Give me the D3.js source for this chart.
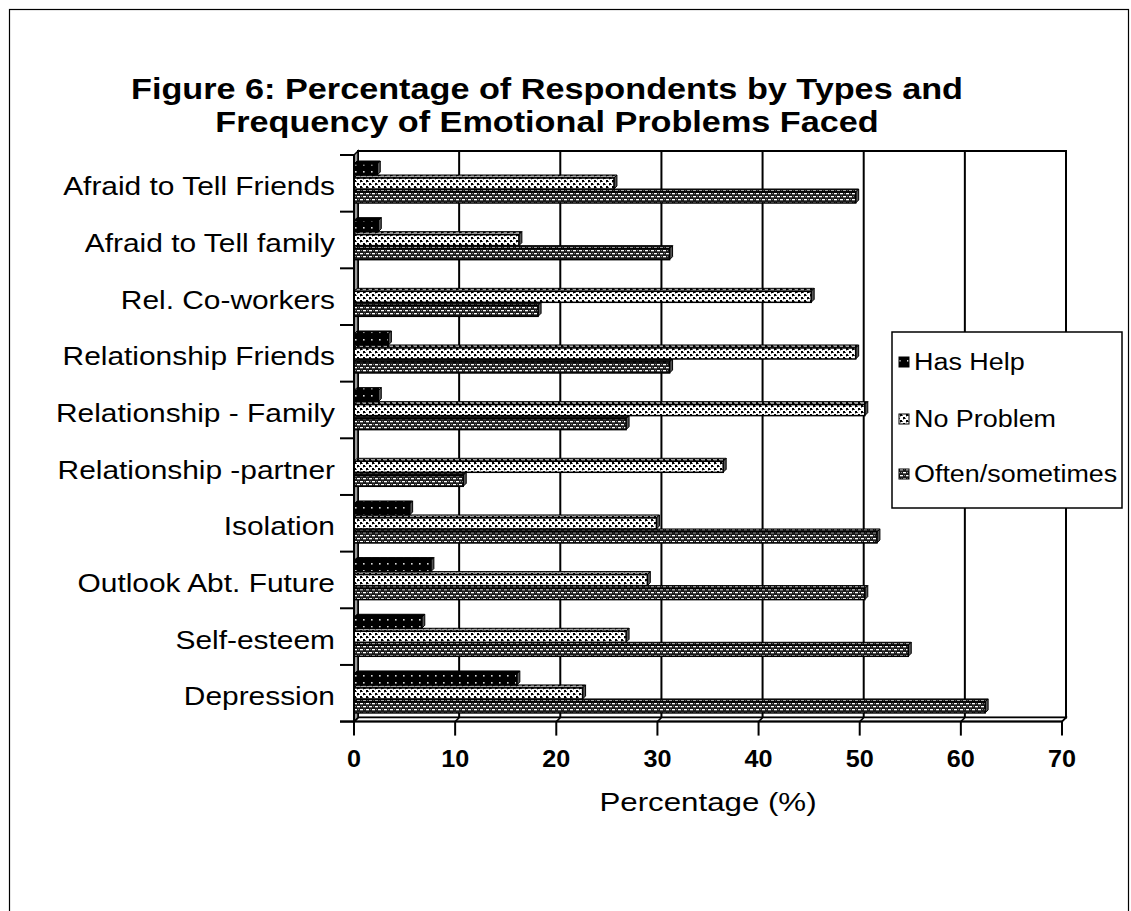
<!DOCTYPE html>
<html>
<head>
<meta charset="utf-8">
<script src="https://cdn.jsdelivr.net/npm/d3@7"></script>
<style>
  body { margin: 0; background: #fff; }
  svg { display: block; }
  text { font-family: "Liberation Sans", Arial, sans-serif; fill: #000; }
</style>
</head>
<body>
<svg id="chart" width="1131" height="911"></svg>
<script>
// ---- data ----
const categories = [
  "Afraid to Tell Friends", "Afraid to Tell family", "Rel. Co-workers",
  "Relationship Friends", "Relationship - Family", "Relationship -partner",
  "Isolation", "Outlook Abt. Future", "Self-esteem", "Depression"
];
const seriesNames = ["Has Help", "No Problem", "Often/sometimes"];
const hasHelp        = [2.3, 2.4, 0, 3.4, 2.4, 0, 5.5, 7.6, 6.7, 16.1];
const noProblem      = [25.7, 16.3, 45.2, 49.6, 50.5, 36.5, 29.9, 29.0, 26.9, 22.6];
const oftenSometimes = [49.6, 31.2, 18.2, 31.2, 26.9, 10.8, 51.7, 50.5, 54.8, 62.4];
const xTicks = [0, 10, 20, 30, 40, 50, 60, 70];
const titleLines = ["Figure 6: Percentage of Respondents by Types and",
                    "Frequency of Emotional Problems Faced"];
const axisTitle = "Percentage (%)";

const seriesValues = [hasHelp, noProblem, oftenSometimes];
const patternIds = ["pat-help", "pat-none", "pat-often"];

// ---- layout ----
const svg = d3.select("#chart");
const SX = 1.17;          // horizontal stretch of the lettering
const WALL = 4;           // depth of the back wall
const DEPTH = 3;          // depth of each bar

const x = d3.scaleLinear().domain([0, 70]).range([354, 1062]);
const y = d3.scaleBand().domain(categories).range([155, 721.6]).padding(0);
const ys = d3.scaleBand().domain(seriesNames).range([9, 48]).paddingInner(3 / 14).paddingOuter(0);

const plotTop = y.range()[0], plotBottom = y.range()[1];

// ---- fill patterns ----
const defs = svg.append("defs");
{
  const p = defs.append("pattern").attr("id", "pat-help").attr("patternUnits", "userSpaceOnUse")
    .attr("width", 8).attr("height", 7);
  p.append("rect").attr("width", 8).attr("height", 7).attr("fill", "#000");
  p.append("rect").attr("x", 3).attr("y", 3).attr("width", 1.6).attr("height", 1.6).attr("fill", "#d8d8d8");
}
{
  const p = defs.append("pattern").attr("id", "pat-none").attr("patternUnits", "userSpaceOnUse")
    .attr("width", 6).attr("height", 6);
  p.append("rect").attr("width", 6).attr("height", 6).attr("fill", "#fff");
  p.append("rect").attr("x", 0).attr("y", 0).attr("width", 2).attr("height", 2).attr("fill", "#000");
  p.append("rect").attr("x", 3).attr("y", 3).attr("width", 2).attr("height", 2).attr("fill", "#000");
  p.append("rect").attr("x", 2).attr("y", 1).attr("width", 1).attr("height", 1).attr("fill", "#555");
  p.append("rect").attr("x", 5).attr("y", 4).attr("width", 1).attr("height", 1).attr("fill", "#555");
  p.append("rect").attr("x", 0).attr("y", 2).attr("width", 1).attr("height", 1).attr("fill", "#999");
  p.append("rect").attr("x", 3).attr("y", 5).attr("width", 1).attr("height", 1).attr("fill", "#999");
}
{
  const p = defs.append("pattern").attr("id", "pat-often").attr("patternUnits", "userSpaceOnUse")
    .attr("width", 6).attr("height", 6);
  p.append("rect").attr("width", 6).attr("height", 6).attr("fill", "#1c1c1c");
  p.append("rect").attr("x", 0).attr("y", 1).attr("width", 3).attr("height", 1.3).attr("fill", "#fff");
  p.append("rect").attr("x", 3).attr("y", 4).attr("width", 3).attr("height", 1.3).attr("fill", "#fff");
  p.append("rect").attr("x", 4).attr("y", 1).attr("width", 1).attr("height", 1).attr("fill", "#888");
  p.append("rect").attr("x", 1).attr("y", 4).attr("width", 1).attr("height", 1).attr("fill", "#888");
}

// ---- outer frame ----
svg.append("rect").attr("x", 9.5).attr("y", 9.5).attr("width", 1119).attr("height", 960)
  .attr("fill", "#fff").attr("stroke", "#000").attr("stroke-width", 1.2);

// ---- stretched text helper ----
function label(parent, tx, ty, str, opts = {}) {
  return parent.append("text")
    .attr("transform", `translate(${tx},${ty}) scale(${opts.sx || SX},1)`)
    .attr("text-anchor", opts.anchor || "start")
    .attr("font-size", opts.size || 22)
    .attr("font-weight", opts.weight || "normal")
    .text(str);
}

// ---- title ----
titleLines.forEach((t, i) => label(svg, 547, 99 + i * 33, t, { anchor: "middle", size: 29.5, weight: "bold", sx: 1.16 }));

// ---- back wall, floor, side wall ----
const wall = svg.append("g");
wall.append("rect")
  .attr("x", x(0) + WALL).attr("y", plotTop - WALL)
  .attr("width", x(70) - x(0)).attr("height", plotBottom - plotTop)
  .attr("fill", "#fff").attr("stroke", "#000").attr("stroke-width", 2);

// gridlines on the back wall
wall.selectAll("line.grid").data(xTicks.filter(v => v > 0 && v < 70)).join("line")
  .attr("class", "grid")
  .attr("x1", d => x(d) + WALL).attr("x2", d => x(d) + WALL)
  .attr("y1", plotTop - WALL).attr("y2", plotBottom - WALL)
  .attr("stroke", "#000").attr("stroke-width", 2);

// floor
wall.append("polygon")
  .attr("points", [[x(0), plotBottom], [x(70), plotBottom], [x(70) + WALL, plotBottom - WALL], [x(0) + WALL, plotBottom - WALL]].map(p => p.join(",")).join(" "))
  .attr("fill", "#fff").attr("stroke", "#000").attr("stroke-width", 1.5);
wall.selectAll("line.floor").data(xTicks).join("line")
  .attr("class", "floor")
  .attr("x1", d => x(d)).attr("y1", plotBottom)
  .attr("x2", d => x(d) + WALL).attr("y2", plotBottom - WALL)
  .attr("stroke", "#000").attr("stroke-width", 1.5);

// left side wall
wall.append("polygon")
  .attr("points", [[x(0), plotTop], [x(0) + WALL, plotTop - WALL], [x(0) + WALL, plotBottom - WALL], [x(0), plotBottom]].map(p => p.join(",")).join(" "))
  .attr("fill", "#9a9a9a").attr("stroke", "#000").attr("stroke-width", 1.5);

// ---- bars ----
const barsLayer = svg.append("g");
categories.forEach((cat, ci) => {
  const grp = barsLayer.append("g");
  // lower series first so the upper bar's front face covers the lower bar's top face
  for (let si = seriesNames.length - 1; si >= 0; si--) {
    const v = seriesValues[si][ci];
    if (!(v > 0)) continue;
    const x0 = x(0), x1 = x(v);
    const yt = y(cat) + ys(seriesNames[si]);
    const yb = yt + ys.bandwidth();
    const fill = `url(#${patternIds[si]})`;
    const top = [[x0, yt], [x1, yt], [x1 + DEPTH, yt - DEPTH], [x0 + DEPTH, yt - DEPTH]].map(p => p.join(",")).join(" ");
    // top face
    grp.append("polygon").attr("points", top)
      .attr("fill", fill).attr("stroke", "#000").attr("stroke-width", 1);
    grp.append("polygon").attr("points", top)
      .attr("fill", "#000").attr("fill-opacity", 0.35);
    // right end face
    grp.append("polygon")
      .attr("points", [[x1, yt], [x1 + DEPTH, yt - DEPTH], [x1 + DEPTH, yb - DEPTH], [x1, yb]].map(p => p.join(",")).join(" "))
      .attr("fill", "#555").attr("stroke", "#000").attr("stroke-width", 1);
    // front face
    grp.append("rect")
      .attr("x", x0).attr("y", yt).attr("width", x1 - x0).attr("height", yb - yt)
      .attr("fill", fill).attr("stroke", "#000").attr("stroke-width", 1.5);
  }
});

// ---- axes ----
const axes = svg.append("g");
// vertical category axis line and ticks
axes.append("line").attr("x1", x(0)).attr("x2", x(0)).attr("y1", plotTop).attr("y2", plotBottom)
  .attr("stroke", "#000").attr("stroke-width", 2);
const boundaries = categories.map(c => y(c)).concat([plotBottom]);
axes.selectAll("line.ytick").data(boundaries).join("line")
  .attr("class", "ytick")
  .attr("x1", x(0) - 14).attr("x2", x(0))
  .attr("y1", d => d).attr("y2", d => d)
  .attr("stroke", "#000").attr("stroke-width", 2);

// horizontal value axis line and ticks
axes.append("line").attr("x1", x(0) - 14).attr("x2", x(70)).attr("y1", plotBottom).attr("y2", plotBottom)
  .attr("stroke", "#000").attr("stroke-width", 2);
axes.selectAll("line.xtick").data(xTicks).join("line")
  .attr("class", "xtick")
  .attr("x1", d => x(d)).attr("x2", d => x(d))
  .attr("y1", plotBottom).attr("y2", plotBottom + 14)
  .attr("stroke", "#000").attr("stroke-width", 2);

// tick labels
xTicks.forEach(v => label(axes, x(v), 767, String(v), { anchor: "middle", size: 24, weight: "bold", sx: 1.05 }));
categories.forEach(c => label(axes, 335, y(c) + y.bandwidth() / 2 + 12, c, { anchor: "end", size: 26, sx: 1.15 }));

// axis title
label(axes, 708, 811, axisTitle, { anchor: "middle", size: 26.5, sx: 1.18 });

// ---- legend ----
const legend = svg.append("g");
legend.append("rect").attr("x", 892).attr("y", 332).attr("width", 230).attr("height", 176)
  .attr("fill", "#fff").attr("stroke", "#000").attr("stroke-width", 1.5);
const legendY = [362, 419, 474];
seriesNames.forEach((s, i) => {
  legend.append("rect").attr("x", 899).attr("y", legendY[i] - 5).attr("width", 10).attr("height", 10)
    .attr("fill", `url(#${patternIds[i]})`).attr("stroke", "#000").attr("stroke-width", 1);
  label(legend, 914, legendY[i] + 8, s, { size: 23 });
});
</script>
</body>
</html>
